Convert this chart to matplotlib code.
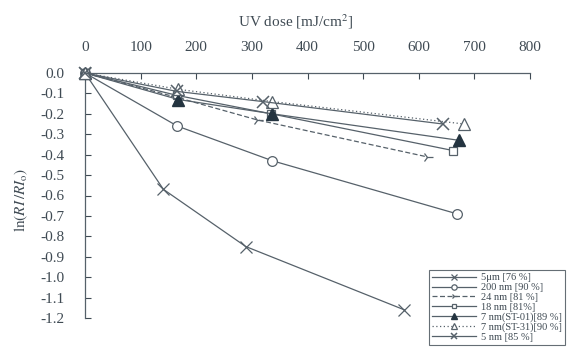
import matplotlib
matplotlib.use("Agg")
import matplotlib.pyplot as plt

plt.rcParams["font.family"] = ["Liberation Serif", "DejaVu Serif"]
plt.rcParams["mathtext.fontset"] = "stix"

INK = "#3f4a53"
LINE = "#56616a"

# UV dose [mJ/cm2] and ln(RI/RI0) for each particle size
dose_5um = [0, 141, 289, 574]
val_5um = [0.0, -0.57, -0.85, -1.16]

dose_200nm = [0, 166, 337, 669]
val_200nm = [0.0, -0.26, -0.43, -0.69]

dose_24nm = [0, 166, 310, 614]
val_24nm = [0.0, -0.12, -0.23, -0.41]

dose_18nm = [0, 166, 335, 662]
val_18nm = [0.0, -0.11, -0.20, -0.38]

dose_7nm_st01 = [0, 168, 337, 673]
val_7nm_st01 = [0.0, -0.13, -0.20, -0.33]

dose_7nm_st31 = [0, 168, 337, 682]
val_7nm_st31 = [0.0, -0.08, -0.14, -0.25]

dose_5nm = [0, 165, 320, 644]
val_5nm = [0.0, -0.09, -0.14, -0.25]

labels = ["5μm [76 %]", "200 nm [90 %]", "24 nm [81 %]", "18 nm [81%]",
          "7 nm(ST-01)[89 %]", "7 nm(ST-31)[90 %]", "5 nm [85 %]"]

x_ticks = [0, 100, 200, 300, 400, 500, 600, 700, 800]
y_ticks = [0.0, -0.1, -0.2, -0.3, -0.4, -0.5, -0.6, -0.7, -0.8, -0.9, -1.0, -1.1, -1.2]

fig = plt.figure(figsize=(5.74, 3.47), dpi=100)
ax = fig.add_axes([85 / 574, 1 - 318 / 347, 445 / 574, 245 / 347])

common = dict(color=LINE, lw=0.9, clip_on=False, zorder=3)
ax.plot(dose_5um, val_5um, marker="x", ms=9, mew=0.9, ls="-", label=labels[0], **common)
ax.plot(dose_200nm, val_200nm, marker="o", ms=7, mfc="white", mew=0.9, ls="-", label=labels[1], **common)
ax.plot(dose_24nm, val_24nm, marker="4", ms=8, mew=0.9, ls=(0, (4, 2)), label=labels[2], **common)
ax.plot(dose_18nm, val_18nm, marker="s", ms=6, mfc="white", mew=0.9, ls="-", label=labels[3], **common)
ax.plot(dose_7nm_st01, val_7nm_st01, marker="^", ms=8, mfc="#243440", mec="#243440", ls="-", label=labels[4], **common)
ax.plot(dose_7nm_st31, val_7nm_st31, marker="^", ms=8, mfc="white", mew=0.9, ls=(0, (1, 2)), label=labels[5], **common)
ax.plot(dose_5nm, val_5nm, marker="x", ms=8, mew=1.1, ls="-", label=labels[6], **common)

ax.set_xlim(0, 800)
ax.set_ylim(-1.2, 0.0)
ax.xaxis.tick_top()
ax.set_xticks(x_ticks)
ax.set_yticks(y_ticks)
ax.set_xticklabels([str(v) for v in x_ticks])
ax.set_yticklabels([f"{v:.1f}" for v in y_ticks])
ax.tick_params(axis="x", direction="in", length=4, pad=14, labelsize=11, colors=INK)
ax.tick_params(axis="y", direction="in", length=4, pad=15, labelsize=11, colors=INK)
for side in ("right", "bottom"):
    ax.spines[side].set_visible(False)
for side in ("top", "left"):
    ax.spines[side].set_color(LINE)
    ax.spines[side].set_linewidth(0.9)

fig.text(296 / 574, 1 - 22 / 347, r"UV dose [mJ/cm$^2$]", ha="center", va="center",
         fontsize=11, color=INK)
fig.text(21 / 574, 1 - 200 / 347, r"$\mathrm{ln}(RI\,/RI_{\mathrm{o}})$", ha="center",
         va="center", rotation=90, fontsize=11, color=INK)

leg = fig.legend(loc="lower left", bbox_to_anchor=(429 / 574, 2 / 347), fontsize=7.5,
                 frameon=True, fancybox=False, edgecolor=INK, handlelength=4.2,
                 markerscale=0.55, labelspacing=0.05, borderpad=0.3,
                 handletextpad=0.5, borderaxespad=0)
leg.get_frame().set_linewidth(0.8)
for t in leg.get_texts():
    t.set_color(INK)

fig.savefig("out.png", dpi=100, facecolor="white")
